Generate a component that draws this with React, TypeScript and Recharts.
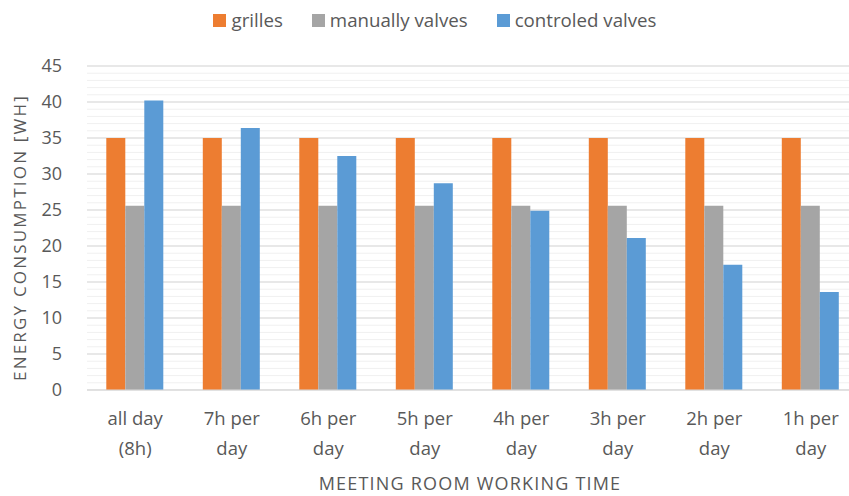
import React from "react";
import { BarChart, Bar, XAxis, YAxis, CartesianGrid, Legend, Label } from "recharts";

const categories = ["all day\n(8h)", "7h per\nday", "6h per\nday", "5h per\nday", "4h per\nday", "3h per\nday", "2h per\nday", "1h per\nday"];
const grilles = [35.0, 35.0, 35.0, 35.0, 35.0, 35.0, 35.0, 35.0];
const manuallyValves = [25.6, 25.6, 25.6, 25.6, 25.6, 25.6, 25.6, 25.6];
const controledValves = [40.2, 36.4, 32.5, 28.7, 24.9, 21.1, 17.4, 13.6];
const yTicks = [0, 5, 10, 15, 20, 25, 30, 35, 40, 45];
const minorGrid = Array.from({ length: 46 }, (_, i) => i);

const seriesInfo = [
  { key: "grilles", name: "grilles", color: "#ED7D31" },
  { key: "manually", name: "manually valves", color: "#A5A5A5" },
  { key: "controled", name: "controled valves", color: "#5B9BD5" },
];

const data = categories.map((c, i) => ({
  category: c,
  grilles: grilles[i],
  manually: manuallyValves[i],
  controled: controledValves[i],
}));

const FONT = "'Open Sans', sans-serif";
const TEXT = "#595959";

const XTick = (props: any) => {
  const { x, y, payload } = props;
  const lines = String(payload.value).split("\n");
  return (
    <text x={x} y={y} textAnchor="middle" fill={TEXT} fontFamily={FONT} fontSize={18.5}>
      {lines.map((l, i) => (
        <tspan key={i} x={x} y={y + 35 + i * 30}>
          {l}
        </tspan>
      ))}
    </text>
  );
};

const LegendContent = () => (
  <div
    style={{
      display: "flex",
      justifyContent: "center",
      alignItems: "center",
      height: 40,
      fontFamily: FONT,
      fontSize: 18.7,
      color: TEXT,
    }}
  >
    {seriesInfo.map((s, i) => (
      <div key={s.key} style={{ display: "flex", alignItems: "center", marginLeft: i === 0 ? 0 : 29 }}>
        <span style={{ display: "inline-block", width: 13, height: 13, background: s.color, marginRight: 5 }} />
        <span style={{ lineHeight: "40px" }}>{s.name}</span>
      </div>
    ))}
  </div>
);

export default function App() {
  return (
    <div style={{ position: "absolute", left: 0, top: 0 }}>
      <BarChart
        width={870}
        height={496}
        data={data}
        margin={{ top: 66, right: 11, bottom: 0, left: 0 }}
        barCategoryGap="20%"
        barGap={0}
      >
        <CartesianGrid horizontalValues={minorGrid} vertical={false} stroke="#F0F0F0" />
        <CartesianGrid horizontalValues={yTicks} vertical={false} stroke="#D9D9D9" />
        <XAxis
          dataKey="category"
          height={106}
          tickLine={false}
          tickSize={0}
          tickMargin={0}
          axisLine={{ stroke: "#D9D9D9" }}
          tick={<XTick />}
          interval={0}
        >
          <Label
            content={(p: any) => {
              const vb = p.viewBox;
              return (
                <text
                  x={vb.x + vb.width / 2 - 3}
                  y={vb.y + 100}
                  textAnchor="middle"
                  fill={TEXT}
                  fontFamily={FONT}
                  fontSize={18}
                  letterSpacing={1.2}
                >
                  MEETING ROOM WORKING TIME
                </text>
              );
            }}
          />
        </XAxis>
        <YAxis
          width={87}
          domain={[0, 45]}
          ticks={yTicks}
          interval={0}
          tickLine={false}
          axisLine={false}
          tickSize={0}
          tickMargin={25}
          tick={{ fill: TEXT, fontFamily: FONT, fontSize: 18 }}
        >
          <Label
            content={(p: any) => {
              const vb = p.viewBox;
              const cx = vb.x + 19;
              const cy = vb.y + vb.height / 2 + 9.5;
              return (
                <text
                  x={cx}
                  y={cy}
                  transform={`rotate(-90, ${cx}, ${cy})`}
                  textAnchor="middle"
                  dominantBaseline="central"
                  fill={TEXT}
                  fontFamily={FONT}
                  fontSize={17}
                  letterSpacing={2.2}
                >
                  ENERGY CONSUMPTION [WH]
                </text>
              );
            }}
          />
        </YAxis>
        <Legend
          verticalAlign="middle"
          layout="horizontal"
          align="center"
          content={<LegendContent />}
          wrapperStyle={{ top: 0, left: 0, width: 870, height: 40 }}
        />
        {seriesInfo.map((s) => (
          <Bar key={s.key} dataKey={s.key} name={s.name} fill={s.color} isAnimationActive={false} />
        ))}
      </BarChart>
    </div>
  );
}
